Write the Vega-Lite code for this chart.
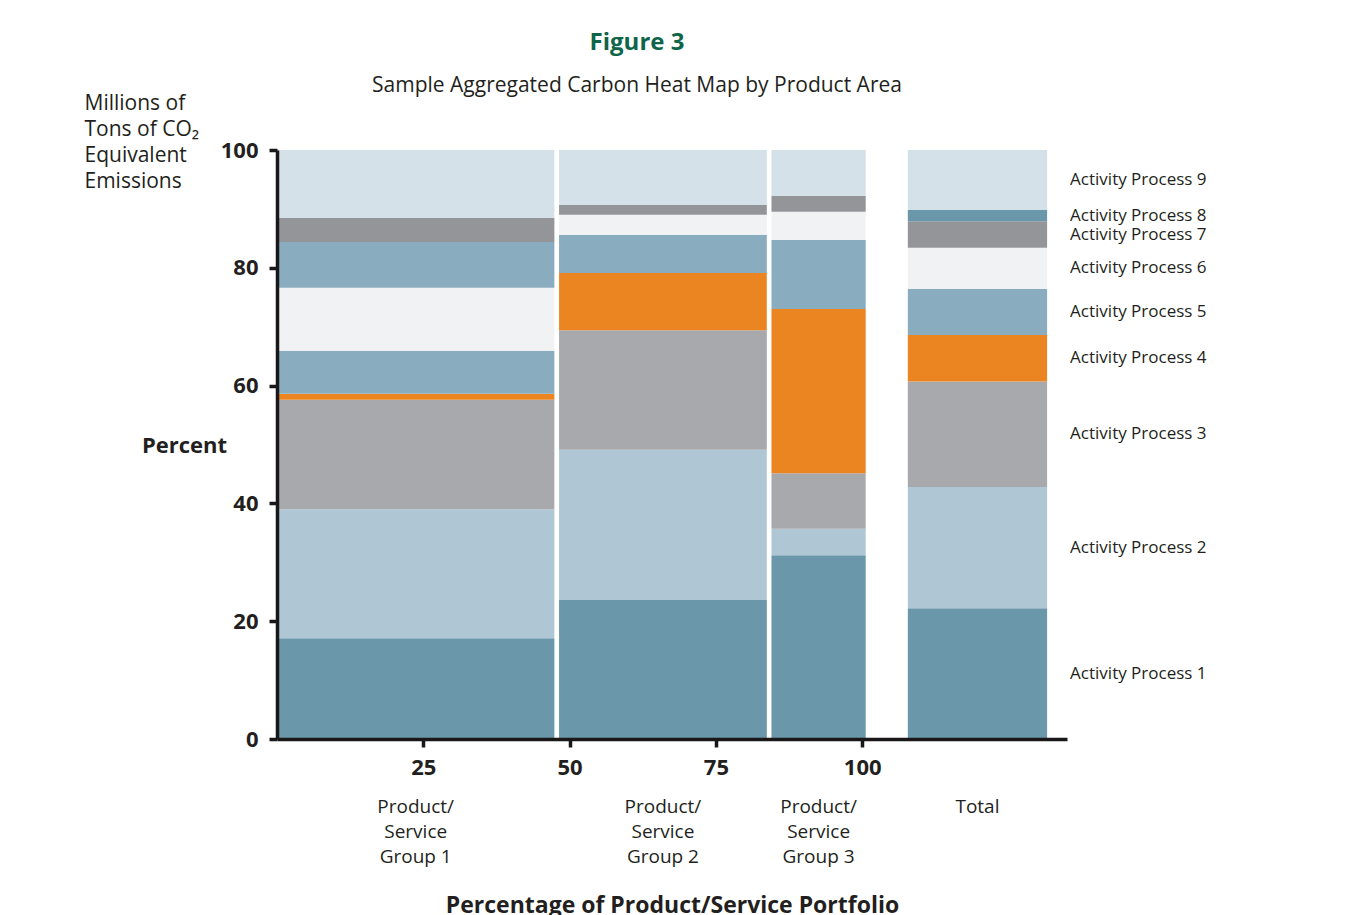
{
  "$schema": "https://vega.github.io/schema/vega-lite/v6.json",
  "width": 790,
  "height": 589,
  "autosize": {"type": "none"},
  "padding": {"left": 277, "top": 150, "right": 284, "bottom": 176},
  "background": "white",
  "config": {"view": {"stroke": null}, "font": "Open Sans"},
  "title": {
    "text": "Figure 3",
    "subtitle": "Sample Aggregated Carbon Heat Map by Product Area",
    "anchor": "middle",
    "frame": "group",
    "dx": -35,
    "offset": -3,
    "font": "Open Sans",
    "fontSize": 24,
    "fontWeight": "bold",
    "color": "#0e654a",
    "subtitleFont": "Open Sans",
    "subtitleFontSize": 21,
    "subtitleColor": "#231f20",
    "subtitlePadding": 20
  },
  "resolve": {"axis": {"y": "independent"}},
  "datasets": {
    "groups": [
      {"group": "G1", "label": "Product/\nService\nGroup 1", "from": 0, "to": 47.4},
      {"group": "G2", "label": "Product/\nService\nGroup 2", "from": 48.2, "to": 83.7},
      {"group": "G3", "label": "Product/\nService\nGroup 3", "from": 84.5, "to": 100.6},
      {"group": "Total", "label": "Total", "from": 107.8, "to": 131.6}
    ],
    "segments": [
      {"group": "G1", "process": "Activity Process 1", "low": 0, "high": 17.1},
      {"group": "G1", "process": "Activity Process 2", "low": 17.1, "high": 39.0},
      {"group": "G1", "process": "Activity Process 3", "low": 39.0, "high": 57.6},
      {"group": "G1", "process": "Activity Process 4", "low": 57.6, "high": 58.6},
      {"group": "G1", "process": "Activity Process 5", "low": 58.6, "high": 65.9},
      {"group": "G1", "process": "Activity Process 6", "low": 65.9, "high": 76.6},
      {"group": "G1", "process": "Activity Process 5", "low": 76.6, "high": 84.4},
      {"group": "G1", "process": "Activity Process 7", "low": 84.4, "high": 88.5},
      {"group": "G1", "process": "Activity Process 9", "low": 88.5, "high": 100},
      {"group": "G2", "process": "Activity Process 1", "low": 0, "high": 23.6},
      {"group": "G2", "process": "Activity Process 2", "low": 23.6, "high": 49.1},
      {"group": "G2", "process": "Activity Process 3", "low": 49.1, "high": 69.4},
      {"group": "G2", "process": "Activity Process 4", "low": 69.4, "high": 79.1},
      {"group": "G2", "process": "Activity Process 5", "low": 79.1, "high": 85.6},
      {"group": "G2", "process": "Activity Process 6", "low": 85.6, "high": 89.0},
      {"group": "G2", "process": "Activity Process 7", "low": 89.0, "high": 90.7},
      {"group": "G2", "process": "Activity Process 9", "low": 90.7, "high": 100},
      {"group": "G3", "process": "Activity Process 1", "low": 0, "high": 31.2},
      {"group": "G3", "process": "Activity Process 2", "low": 31.2, "high": 35.7},
      {"group": "G3", "process": "Activity Process 3", "low": 35.7, "high": 45.1},
      {"group": "G3", "process": "Activity Process 4", "low": 45.1, "high": 73.0},
      {"group": "G3", "process": "Activity Process 5", "low": 73.0, "high": 84.7},
      {"group": "G3", "process": "Activity Process 6", "low": 84.7, "high": 89.5},
      {"group": "G3", "process": "Activity Process 7", "low": 89.5, "high": 92.2},
      {"group": "G3", "process": "Activity Process 9", "low": 92.2, "high": 100},
      {"group": "Total", "process": "Activity Process 1", "low": 0, "high": 22.2},
      {"group": "Total", "process": "Activity Process 2", "low": 22.2, "high": 42.8},
      {"group": "Total", "process": "Activity Process 3", "low": 42.8, "high": 60.7},
      {"group": "Total", "process": "Activity Process 4", "low": 60.7, "high": 68.6},
      {"group": "Total", "process": "Activity Process 5", "low": 68.6, "high": 76.4},
      {"group": "Total", "process": "Activity Process 6", "low": 76.4, "high": 83.4},
      {"group": "Total", "process": "Activity Process 7", "low": 83.4, "high": 87.9},
      {"group": "Total", "process": "Activity Process 8", "low": 87.9, "high": 89.8},
      {"group": "Total", "process": "Activity Process 9", "low": 89.8, "high": 100}
    ]
  },
  "layer": [
    {
      "data": {"name": "segments"},
      "transform": [
        {"lookup": "group", "from": {"data": {"name": "groups"}, "key": "group", "fields": ["from", "to"]}}
      ],
      "mark": {"type": "rect"},
      "encoding": {
        "x": {
          "field": "from",
          "type": "quantitative",
          "scale": {"domain": [0, 135], "nice": false, "zero": true},
          "axis": {
            "values": [25, 50, 75, 100],
            "grid": false,
            "zindex": 1,
            "domainColor": "#1a1718",
            "domainWidth": 3.5,
            "tickColor": "#1a1718",
            "tickWidth": 3.5,
            "tickSize": 8,
            "labelFont": "Open Sans",
            "labelFontWeight": "bold",
            "labelFontSize": 22,
            "labelColor": "#231f20",
            "labelPadding": 10,
            "title": "Percentage of Product/Service Portfolio",
            "titleFont": "Open Sans",
            "titleFontWeight": "bold",
            "titleFontSize": 23,
            "titleColor": "#231f20",
            "titleBaseline": "top",
            "titleAnchor": "middle",
            "titleY": 155
          }
        },
        "x2": {"field": "to"},
        "y": {
          "field": "low",
          "type": "quantitative",
          "scale": {"domain": [0, 100], "nice": false},
          "axis": {
            "values": [0, 20, 40, 60, 80, 100],
            "grid": false,
            "zindex": 1,
            "domainColor": "#1a1718",
            "domainWidth": 3.5,
            "tickColor": "#1a1718",
            "tickWidth": 3.5,
            "tickSize": 8,
            "labelFont": "Open Sans",
            "labelFontWeight": "bold",
            "labelFontSize": 22,
            "labelColor": "#231f20",
            "labelPadding": 11,
            "title": ["Millions of", "Tons of CO₂", "Equivalent", "Emissions"],
            "titleFont": "Open Sans",
            "titleFontWeight": "normal",
            "titleFontSize": 21,
            "titleColor": "#231f20",
            "titleAngle": 0,
            "titleAlign": "left",
            "titleBaseline": "top",
            "titleLineHeight": 26,
            "titleX": -193,
            "titleY": -57.5
          }
        },
        "y2": {"field": "high"},
        "color": {
          "field": "process",
          "type": "nominal",
          "scale": {
            "domain": ["Activity Process 1", "Activity Process 2", "Activity Process 3", "Activity Process 4", "Activity Process 5", "Activity Process 6", "Activity Process 7", "Activity Process 8", "Activity Process 9"],
            "range": ["#6a97aa", "#afc7d5", "#a8a9ad", "#eb8522", "#8aacbf", "#f1f2f4", "#949599", "#6a97aa", "#d4e1e9"]
          },
          "legend": null
        }
      }
    },
    {
      "data": {"name": "groups"},
      "transform": [
        {"fold": ["from", "to"], "as": ["edge", "pos"]},
        {"aggregate": [{"op": "mean", "field": "pos", "as": "center"}], "groupby": ["label"]}
      ],
      "mark": {"type": "text", "baseline": "top", "align": "center", "dy": 59, "fontSize": 19, "lineHeight": 25, "lineBreak": "\n", "color": "#231f20", "font": "Open Sans"},
      "encoding": {
        "x": {"field": "center", "type": "quantitative"},
        "y": {"datum": 0, "type": "quantitative", "axis": null},
        "text": {"field": "label"}
      }
    },
    {
      "data": {"name": "segments"},
      "transform": [
        {"filter": "datum.group === 'Total'"},
        {"lookup": "group", "from": {"data": {"name": "groups"}, "key": "group", "fields": ["to"]}},
        {"fold": ["low", "high"], "as": ["edge", "v"]},
        {"aggregate": [{"op": "mean", "field": "v", "as": "mid"}, {"op": "max", "field": "to", "as": "right"}], "groupby": ["process"]}
      ],
      "mark": {"type": "text", "align": "left", "baseline": "middle", "dx": 23, "fontSize": 17, "color": "#231f20", "font": "Open Sans"},
      "encoding": {
        "x": {"field": "right", "type": "quantitative"},
        "y": {
          "field": "mid",
          "type": "quantitative",
          "axis": {
            "orient": "right",
            "domain": false,
            "ticks": false,
            "labels": false,
            "grid": false,
            "title": "Percent",
            "titleFont": "Open Sans",
            "titleFontWeight": "bold",
            "titleFontSize": 22,
            "titleColor": "#231f20",
            "titleAngle": 0,
            "titleAlign": "center",
            "titleBaseline": "middle",
            "titleX": -883,
            "titleY": 295
          }
        },
        "text": {"field": "process"}
      }
    }
  ]
}
